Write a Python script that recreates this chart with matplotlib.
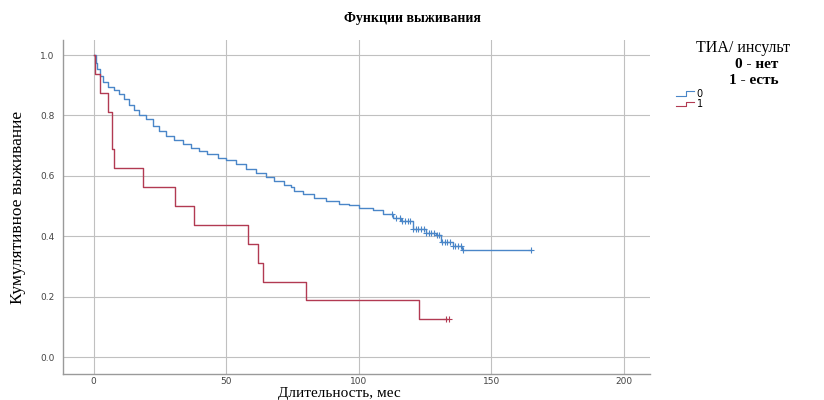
import numpy as np
import matplotlib.pyplot as plt
from matplotlib.legend_handler import HandlerBase
from matplotlib.lines import Line2D

# Kaplan-Meier estimates: event times (months) and survival after each step
t_no = [0, 0.9, 1.5, 2.4, 3.4, 5.3, 7.8, 9.7, 11.6, 13.5, 15.4, 17.2, 19.7, 22.3,
        24.8, 27.3, 30.5, 33.6, 36.7, 39.9, 43.0, 46.8, 49.9, 53.7, 57.5, 61.2,
        65.0, 68.2, 72.0, 74.5, 75.7, 78.9, 83.3, 87.7, 92.7, 96.5, 100.3, 105.3,
        109.1, 112.8, 116.0, 120.4, 125.4, 129.2, 131.1, 135.5, 139.2]
s_no = [1.0, 0.975, 0.954, 0.932, 0.91, 0.894, 0.883, 0.872, 0.855, 0.836, 0.819,
        0.802, 0.789, 0.764, 0.748, 0.731, 0.72, 0.706, 0.693, 0.682, 0.671, 0.66,
        0.651, 0.638, 0.624, 0.609, 0.596, 0.583, 0.569, 0.563, 0.55, 0.539, 0.528,
        0.517, 0.506, 0.502, 0.495, 0.486, 0.475, 0.462, 0.451, 0.425, 0.411,
        0.403, 0.381, 0.367, 0.356]
end_no = 164.9
cens_no = [112.5, 114, 115.5, 116.5, 117.5, 118.5, 119.5, 120.5, 121.5, 122.5, 123.5,
           124.5, 125.5, 126.5, 127.5, 128.5, 129.5, 130.5, 131.5, 132.5, 133.5,
           134.5, 135.5, 136.5, 137.5, 138.5, 139.5, 164.9]

t_yes = [0, 0.6, 2.4, 5.3, 6.9, 7.8, 18.7, 30.8, 38.0, 58.1, 61.9, 64.0, 80.0, 122.7]
s_yes = [1.0, 0.9375, 0.875, 0.8125, 0.6875, 0.625, 0.5625, 0.5, 0.4375, 0.375,
         0.3125, 0.25, 0.1875, 0.125]
end_yes = 133.5
cens_yes = [132.8, 134.0]

groups = [('0', t_no, s_no, end_no, cens_no, '#4a86c8'),
          ('1', t_yes, s_yes, end_yes, cens_yes, '#b23a52')]


class StepHandler(HandlerBase):
    # small step-shaped legend key
    def create_artists(self, legend, orig_handle, xdescent, ydescent,
                       width, height, fontsize, trans):
        x0 = -xdescent
        xs = [x0, x0 + width * 0.55, x0 + width * 0.55, x0 + width]
        y0 = -ydescent + height * 0.15
        y1 = -ydescent + height * 0.85
        ln = Line2D(xs, [y0, y0, y1, y1], color=orig_handle.get_color(),
                    lw=0.8, transform=trans)
        return [ln]


fig = plt.figure(figsize=(8.24, 4.0), dpi=100)
ax = fig.add_axes([0.0765, 0.065, 0.7125, 0.835])

handles = []
for name, t, s, end, cens, col in groups:
    tt = list(t) + [end]
    ss = list(s) + [s[-1]]
    line, = ax.step(tt, ss, where='post', color=col, lw=1.0, zorder=3)
    idx = np.searchsorted(t, cens, side='right') - 1
    ax.plot(cens, np.array(s)[idx], '+', color=col, ms=4, mew=0.8, zorder=4)
    handles.append(line)

ax.set_xlim(-11.5, 210)
ax.set_ylim(-0.056, 1.05)
ax.set_xticks([0, 50, 100, 150, 200])
ax.set_yticks([0.0, 0.2, 0.4, 0.6, 0.8, 1.0])
ax.set_yticklabels(['0.0', '0.2', '0.4', '0.6', '0.8', '1.0'])
ax.tick_params(length=0, labelsize=6.5, colors='#444444', pad=6)
ax.tick_params(axis='x', pad=2)
ax.grid(True, color='#c0c0c0', lw=0.8)
ax.set_axisbelow(True)
for side in ['top', 'right']:
    ax.spines[side].set_visible(False)
for side in ['left', 'bottom']:
    ax.spines[side].set_color('#9a9a9a')
    ax.spines[side].set_linewidth(1.0)

serif = 'Liberation Serif'
ax.set_xlabel('Длительность, мес', family=serif, fontsize=11, va='bottom')
ax.xaxis.set_label_coords(0.47, -0.078)
ax.set_ylabel('Кумулятивное выживание', family=serif, fontsize=12.5, labelpad=10)
fig.suptitle('Функции выживания', family=serif, fontsize=10, fontweight='bold',
             x=0.5, y=0.97)

ax.legend(handles, ['0', '1'], handler_map={Line2D: StepHandler()},
          loc='upper left', bbox_to_anchor=(0.815, 0.79),
          bbox_transform=fig.transFigure, frameon=False, fontsize=7,
          handlelength=1.8, handletextpad=0.3, labelspacing=0.05,
          borderpad=0)

fig.text(0.845, 0.88, 'ТИА/ инсульт', family=serif, fontsize=11.5, va='center')
fig.text(0.892, 0.84, '0 - нет', family=serif, fontsize=11, fontweight='bold',
         va='center')
fig.text(0.885, 0.80, '1 - есть', family=serif, fontsize=11, fontweight='bold',
         va='center')

fig.savefig('out.png', dpi=100)
